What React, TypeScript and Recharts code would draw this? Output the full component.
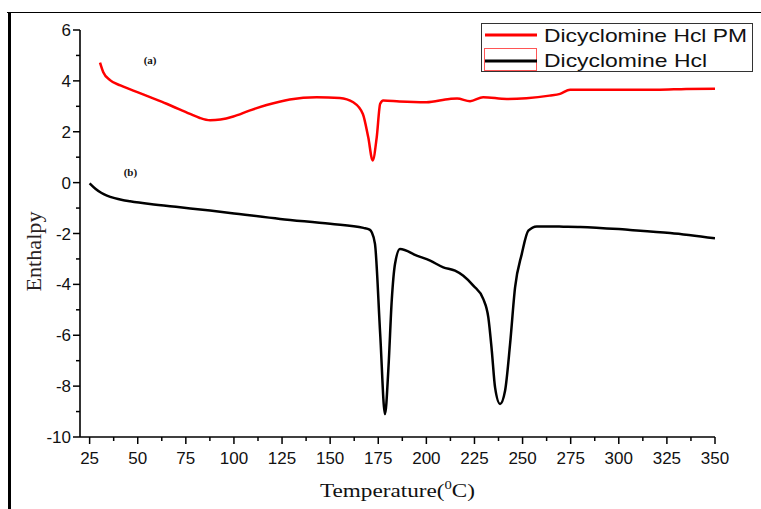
import { LineChart, Line, XAxis, YAxis, Legend, ReferenceDot } from 'recharts';

// (a) Dicyclomine Hcl PM - red trace
const tempPM = [30.4, 32.1, 35.6, 41, 47.7, 56.4, 65, 77.2, 82, 87.6, 93, 99.7, 108, 117, 129, 143, 155, 162, 167, 169.8, 172.1, 174.2, 176, 177.6, 186, 200, 212, 216, 222.7, 229.5, 241.8, 252, 264, 269.5, 274.7, 292, 319.7, 335, 350];
const enthPM = [4.72, 4.34, 4.03, 3.82, 3.62, 3.36, 3.1, 2.7, 2.55, 2.45, 2.48, 2.6, 2.83, 3.05, 3.27, 3.36, 3.33, 3.16, 2.7, 1.78, 0.87, 1.78, 3.1, 3.23, 3.19, 3.16, 3.29, 3.31, 3.2, 3.36, 3.29, 3.32, 3.42, 3.49, 3.65, 3.65, 3.65, 3.68, 3.69];

// (b) Dicyclomine Hcl - black trace
const tempHcl = [25, 28, 31, 34, 38, 42, 46, 56.4, 72, 87.6, 98, 124, 150, 167.3, 170.5, 171.6, 173.3, 176, 178.5, 180.3, 182, 183.7, 186.3, 195, 202, 208.8, 214.9, 219.2, 224.4, 229.6, 232.2, 234, 235.7, 238.3, 240.9, 243.5, 246.1, 249.6, 253, 257.4, 271.2, 280, 305.9, 326.7, 350];
const enthHcl = [-0.03, -0.24, -0.4, -0.51, -0.61, -0.68, -0.73, -0.84, -0.97, -1.1, -1.19, -1.43, -1.62, -1.78, -1.85, -1.95, -2.41, -5.95, -9.1, -7.27, -4.64, -3.2, -2.61, -2.87, -3.07, -3.33, -3.46, -3.66, -4.05, -4.58, -5.3, -6.6, -8.05, -8.7, -8.18, -6.35, -4.12, -2.8, -1.89, -1.72, -1.73, -1.74, -1.86, -1.98, -2.19];

const seriesNames = ['Dicyclomine Hcl PM', 'Dicyclomine Hcl'];
const seriesColors = ['#ff0000', '#000000'];

const xTicks = [25, 37.5, 50, 62.5, 75, 87.5, 100, 112.5, 125, 137.5, 150, 162.5, 175, 187.5, 200, 212.5, 225, 237.5, 250, 262.5, 275, 287.5, 300, 312.5, 325, 337.5, 350];
const yTicks = [-10, -9, -8, -7, -6, -5, -4, -3, -2, -1, 0, 1, 2, 3, 4, 5, 6];

const noteLabels = ['(a)', '(b)'];
const noteT = [56.4, 46.2];
const noteY = [4.8, 0.42];

const pmData = tempPM.map((t, i) => ({ t, v: enthPM[i] }));
const hclData = tempHcl.map((t, i) => ({ t, v: enthHcl[i] }));

const tickFont = '"Liberation Sans", Arial, sans-serif';
const titleFont = '"Liberation Serif", "Times New Roman", serif';

const XTick = (props: any) => {
  const { x, y, payload } = props;
  const major = payload.value % 25 === 0;
  return (
    <g>
      <line x1={x} x2={x} y1={y} y2={y + (major ? 7 : 4)} stroke="#000" strokeWidth={1.5} />
      {major && (
        <text x={x} y={y + 27} textAnchor="middle" fontSize={17} fontFamily={tickFont} fill="#111">
          {payload.value}
        </text>
      )}
    </g>
  );
};

const YTick = (props: any) => {
  const { x, y, payload } = props;
  const major = payload.value % 2 === 0;
  return (
    <g>
      <line x1={x - (major ? 7 : 4)} x2={x} y1={y} y2={y} stroke="#000" strokeWidth={1.5} />
      {major && (
        <text x={x - 9} y={y} dy="0.36em" textAnchor="end" fontSize={17} fontFamily={tickFont} fill="#111">
          {payload.value}
        </text>
      )}
    </g>
  );
};

const XTitle = (props: any) => {
  const { x, y, width } = props.viewBox;
  return (
    <text x={x + width / 2} y={y + 60} textAnchor="middle" fontSize={19} fontFamily={titleFont} fill="#111"
      textLength={155} lengthAdjust="spacingAndGlyphs">
      Temperature(<tspan fontSize={12} dy={-8}>0</tspan><tspan dy={8}>C)</tspan>
    </text>
  );
};

const YTitle = (props: any) => {
  const { y, height } = props.viewBox;
  const cx = 35;
  const cy = y + height / 2 + 18;
  return (
    <text x={cx} y={cy} transform={`rotate(-90 ${cx} ${cy})`} textAnchor="middle" dy="0.3em" fontSize={20}
      fontFamily={titleFont} fill="#2a2222" textLength={80} lengthAdjust="spacingAndGlyphs">
      Enthalpy
    </text>
  );
};

const LegendBox = () => (
  <svg width={273} height={50}>
    <rect x={0.5} y={0.5} width={271} height={48} fill="#fff" stroke="#333" strokeWidth={1} />
    {/* odd red frame around the second sample, as in the source figure */}
    <rect x={3.5} y={25.5} width={52} height={22} fill="none" stroke="#ff5555" strokeWidth={1} />
    {seriesNames.map((name, i) => (
      <g key={name}>
        <line x1={4} x2={56} y1={12 + i * 26} y2={12 + i * 26} stroke={seriesColors[i]} strokeWidth={3} />
        <text x={63} y={18.5 + i * 25} fontSize={19} fontFamily={tickFont} fill="#111"
          textLength={i === 0 ? 203 : 163} lengthAdjust="spacingAndGlyphs">
          {name}
        </text>
      </g>
    ))}
  </svg>
);

export default function App() {
  return (
    <div style={{ position: 'absolute', top: 0, left: 0, width: 761, height: 509, background: '#fff' }}>
      <div style={{ position: 'absolute', top: 12, left: 7, width: 754, height: 1, background: '#000' }} />
      <div style={{ position: 'absolute', top: 12, left: 8, width: 3, height: 497, background: '#000' }} />
      <LineChart width={761} height={509} margin={{ top: 30, right: 46, bottom: 12, left: 20 }}>
        <XAxis
          type="number"
          dataKey="t"
          domain={[20, 350]}
          ticks={xTicks}
          interval={0}
          allowDataOverflow
          height={60}
          tickSize={0}
          tickMargin={0}
          tickLine={false}
          tick={<XTick />}
          axisLine={{ stroke: '#000', strokeWidth: 1.6 }}
          label={{ content: <XTitle /> }}
        />
        <YAxis
          type="number"
          domain={[-10, 6]}
          ticks={yTicks}
          interval={0}
          allowDataOverflow
          width={60}
          tickSize={0}
          tickMargin={0}
          tickLine={false}
          tick={<YTick />}
          axisLine={{ stroke: '#000', strokeWidth: 1.6 }}
          label={{ content: <YTitle /> }}
        />
        <Legend
          layout="horizontal"
          verticalAlign="middle"
          align="center"
          content={<LegendBox />}
          wrapperStyle={{ position: 'absolute', top: 23, left: 481, width: 273, height: 50 }}
        />
        <Line data={pmData} dataKey="v" name={seriesNames[0]} type="monotone" stroke={seriesColors[0]}
          strokeWidth={2.5} dot={false} isAnimationActive={false} />
        <Line data={hclData} dataKey="v" name={seriesNames[1]} type="monotone" stroke={seriesColors[1]}
          strokeWidth={2.5} dot={false} isAnimationActive={false} />
        {noteLabels.map((lab, i) => (
          <ReferenceDot key={lab} x={noteT[i]} y={noteY[i]} r={1} fill="none" stroke="none"
            label={{ value: lab, position: 'center', fontSize: 11, fontWeight: 'bold', fontFamily: titleFont, fill: '#111' }} />
        ))}
      </LineChart>
    </div>
  );
}
